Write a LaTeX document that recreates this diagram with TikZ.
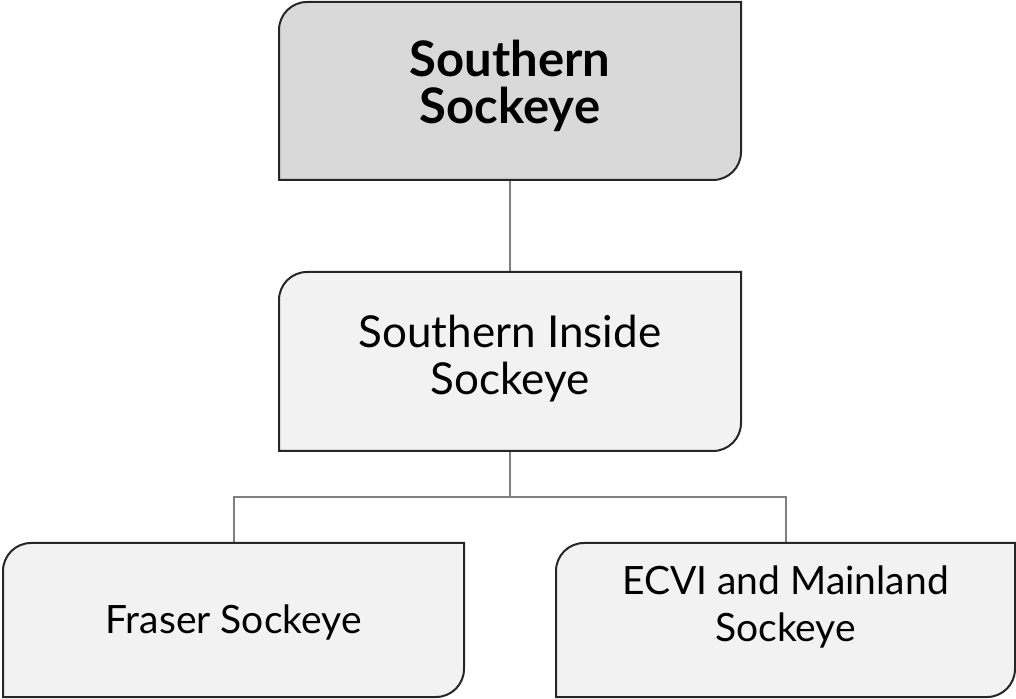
\documentclass[tikz,border=0pt]{standalone}
\usepackage{fontspec}
\setmainfont{Lato}
\usetikzlibrary{calc}
\definecolor{topfill}{HTML}{D9D9D9}
\definecolor{boxfill}{HTML}{F2F2F2}
\definecolor{edge}{HTML}{262626}
\definecolor{link}{HTML}{808080}
\tikzset{
  x=1pt, y=1pt,
  boxnode/.style={inner sep=0pt, outer sep=0pt, minimum width=#1},
  boxshape/.style={draw=edge, line width=2pt},
  lbl/.style={align=center, font=\fontsize{39}{47}\selectfont, inner sep=0pt},
  conn/.style={draw=link, line width=2pt},
}
\newcommand{\sockbox}[2]{%
  \path[boxshape, fill=#2] (#1.south west) -- ([yshift=-28]#1.north west)
    arc[start angle=180, end angle=90, radius=28] -- (#1.north east)
    -- ([yshift=28]#1.south east)
    arc[start angle=0, end angle=-90, radius=28] -- cycle;}
\begin{document}
\begin{tikzpicture}
\useasboundingbox (0,0) rectangle (1016,698);
\node[boxnode=462pt, minimum height=178pt] (t) at (510,607) {};
\node[boxnode=462pt, minimum height=179pt] (m) at (510,336.5) {};
\node[boxnode=461pt, minimum height=154pt] (f) at (233.5,78) {};
\node[boxnode=459pt, minimum height=154pt] (e) at (785.5,78) {};
\draw[conn] (t.south) -- (m.north);
\draw[conn] (m.south) -- ++(0,-46) -| (f.north);
\draw[conn] (m.south) -- ++(0,-46) -| (e.north);
\sockbox{t}{topfill}
\sockbox{m}{boxfill}
\sockbox{f}{boxfill}
\sockbox{e}{boxfill}
\node[lbl, font=\fontsize{49}{47}\selectfont\bfseries] (tl) at ([yshift=5]t.center) {Southern\\Sockeye};
\node[lbl, font=\fontsize{44}{47}\selectfont] (ml) at ([yshift=3]m.center) {Southern Inside\\Sockeye};
\node[lbl] (fl) at ([yshift=-2]f.center) {Fraser Sockeye};
\node[lbl] (el) at ([yshift=13]e.center) {ECVI and Mainland\\Sockeye};
\end{tikzpicture}
\end{document}
